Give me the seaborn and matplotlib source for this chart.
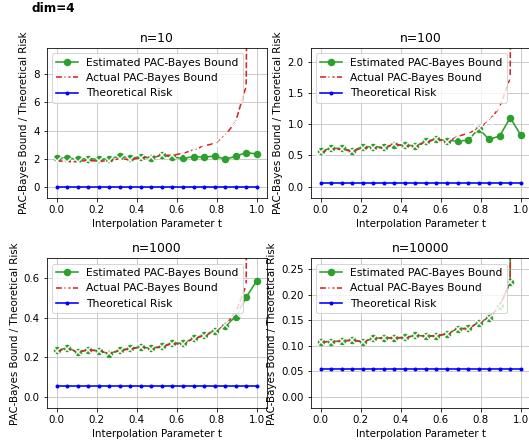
import numpy as np
import pandas as pd
import seaborn as sns
import matplotlib.pyplot as plt

# interpolation parameter, 20 steps from 0 to 1
t = np.linspace(0, 1, 20)

est_10 = [2.05, 2.07, 1.98, 2.02, 1.98, 2.02, 2.19, 2.07, 2.14, 2.07,
          2.26, 2.12, 2.05, 2.16, 2.12, 2.21, 1.98, 2.19, 2.45, 2.35]
act_10 = [1.88, 1.81, 1.81, 1.91, 1.84, 1.88, 2.02, 1.95, 2.09, 2.16,
          2.26, 2.26, 2.40, 2.64, 2.92, 3.10, 3.65, 4.64, 7.15, 100.0]

est_100 = [0.576, 0.613, 0.613, 0.576, 0.640, 0.640, 0.630, 0.660, 0.670, 0.650,
           0.730, 0.763, 0.736, 0.736, 0.740, 0.928, 0.757, 0.810, 1.104, 0.827]
act_100 = [0.555, 0.597, 0.597, 0.565, 0.624, 0.619, 0.624, 0.683, 0.651, 0.645,
           0.709, 0.763, 0.709, 0.805, 0.853, 0.933, 1.056, 1.269, 1.744, 30.0]

est_1000 = [0.235, 0.247, 0.228, 0.238, 0.233, 0.218, 0.237, 0.245, 0.253, 0.245,
            0.257, 0.272, 0.272, 0.296, 0.313, 0.335, 0.357, 0.406, 0.504, 0.588]
act_1000 = [0.232, 0.243, 0.226, 0.237, 0.232, 0.220, 0.233, 0.243, 0.250, 0.243,
            0.253, 0.269, 0.267, 0.294, 0.309, 0.331, 0.362, 0.426, 0.566, 10.0]

est_10000 = [0.1077, 0.108, 0.109, 0.111, 0.108, 0.114, 0.1155, 0.1155, 0.116, 0.120,
             0.119, 0.1195, 0.1234, 0.133, 0.134, 0.145, 0.155, 0.1775, 0.2245, 5.0]
act_10000 = [0.1072, 0.1077, 0.1087, 0.1105, 0.1075, 0.1137, 0.115, 0.115, 0.1155, 0.1195,
             0.1185, 0.119, 0.123, 0.1325, 0.1335, 0.1445, 0.1545, 0.177, 0.224, 5.0]

risk = [0.054] * 20

ns = [10, 100, 1000, 10000]
estimated = [est_10, est_100, est_1000, est_10000]
actual = [act_10, act_100, act_1000, act_10000]
ylims = [(-0.755, 9.83), (-0.181, 2.219), (-0.059, 0.702), (-0.0227, 0.271)]

fig = plt.figure(figsize=(529 / 72, 448 / 72), dpi=72)
W, H = 529, 448
boxes = [(46.7, 198), (310.7, 198), (46.7, 408.3), (310.7, 408.3)]

for i, n in enumerate(ns):
    x0, y1 = boxes[i]
    ax = fig.add_axes([x0 / W, (H - y1) / H, 220 / W, 150 / H])
    df = pd.DataFrame({"t": t, "est": estimated[i], "act": actual[i], "risk": risk})
    sns.lineplot(data=df, x="t", y="est", ax=ax, color="#2ca02c", marker="o",
                 linewidth=1.6, markersize=7.5, markeredgewidth=0,
                 label="Estimated PAC-Bayes Bound")
    sns.lineplot(data=df, x="t", y="act", ax=ax, color="#d62728", marker="x",
                 linestyle="--", linewidth=1.6, markersize=7.5, markeredgewidth=1.5,
                 label="Actual PAC-Bayes Bound")
    sns.lineplot(data=df, x="t", y="risk", ax=ax, color="blue", marker=".",
                 linewidth=1.6, markersize=8, markeredgewidth=0,
                 label="Theoretical Risk")
    ax.set_xlim(-0.05, 1.05)
    ax.set_ylim(*ylims[i])
    ax.set_title(f"n={n}", fontsize=12.4)
    ax.set_xlabel("Interpolation Parameter t", fontsize=10.3)
    ax.set_ylabel("PAC-Bayes Bound / Theoretical Risk", fontsize=10.3)
    ax.tick_params(labelsize=10.2)
    ax.grid(True, color="#cccccc", linewidth=1)
    ax.legend(loc="upper left", fontsize=10.7)

fig.text(32 / W, 1 - 8 / H, "dim=4", fontsize=12, fontweight="bold", va="center")

fig.savefig("out.png", dpi=72)
